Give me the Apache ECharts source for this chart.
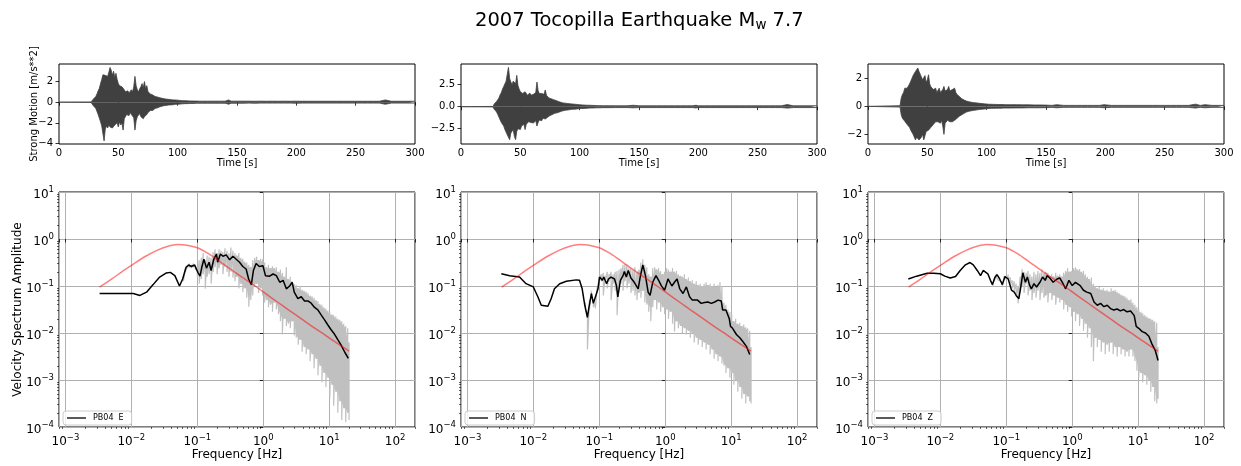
<!DOCTYPE html>
<html>
<head>
<meta charset="utf-8">
<script src="https://cdn.jsdelivr.net/npm/echarts@6.0.0/dist/echarts.min.js"></script>
<style>
  html, body { margin: 0; padding: 0; background: #fff; }
  #chart { width: 1241px; height: 466px; }
</style>
</head>
<body>
<div id="chart"></div>
<script>
// ---------- data ----------
const stationLabels = ['PB04  E', 'PB04  N', 'PB04  Z'];

// acceleration envelopes: [time s, upper m/s**2, lower m/s**2]
const waveE = [[0,0,0],[27,0.02,-0.02],[28,0.15,-0.15],[29,0.3,-0.35],[30,0.45,-0.5],[31,0.55,-0.6],[32,0.8,-0.9],[33,1.1,-1.2],[34,1.35,-1.55],[35,1.8,-1.9],[36,2.2,-2.3],[37,2.65,-2.4],[38,2.7,-3.75],[39,2.6,-2.6],[40,2.7,-2.3],[41,2.5,-2.5],[42,2.9,-2.2],[43,3.36,-2.4],[44,3.1,-2.3],[45,2.6,-2.5],[46,3.0,-2.4],[47,2.4,-2.2],[48,2.8,-2.3],[49,2.2,-2.0],[50,1.8,-2.4],[51,1.6,-1.9],[52,1.7,-2.2],[53,1.5,-2.0],[54,1.6,-2.7],[55,1.2,-1.6],[56,1.0,-1.4],[57,0.9,-1.2],[58,1.1,-1.1],[59,0.9,-1.3],[60,1.0,-1.0],[61,1.2,-1.2],[62,1.0,-1.1],[63,1.5,-1.5],[64,2.5,-2.7],[65,1.6,-1.8],[66,1.2,-1.4],[67,1.0,-1.3],[68,1.3,-1.1],[69,1.5,-1.4],[70,1.8,-1.5],[71,1.4,-1.6],[72,2.0,-1.4],[73,1.3,-1.5],[74,1.6,-1.2],[75,1.0,-1.0],[76,0.9,-0.9],[77,0.8,-0.8],[78,0.9,-0.75],[79,0.7,-0.8],[80,0.6,-0.7],[81,0.55,-0.6],[82,0.6,-0.55],[83,0.5,-0.55],[84,0.45,-0.5],[85,0.42,-0.45],[86,0.4,-0.4],[88,0.35,-0.35],[90,0.3,-0.32],[92,0.28,-0.28],[94,0.25,-0.26],[96,0.22,-0.25],[98,0.22,-0.2],[100,0.2,-0.2],[102,0.17,-0.18],[104,0.15,-0.16],[106,0.15,-0.14],[108,0.13,-0.14],[110,0.12,-0.13],[112,0.12,-0.12],[114,0.11,-0.12],[116,0.11,-0.1],[118,0.1,-0.1],[120,0.1,-0.1],[125,0.1,-0.1],[130,0.1,-0.1],[135,0.1,-0.1],[140,0.1,-0.1],[143,0.22,-0.2],[145,0.1,-0.1],[150,0.1,-0.1],[155,0.1,-0.1],[160,0.1,-0.09],[165,0.09,-0.1],[170,0.1,-0.09],[175,0.09,-0.09],[180,0.1,-0.09],[185,0.09,-0.09],[190,0.1,-0.09],[195,0.09,-0.09],[200,0.1,-0.1],[205,0.09,-0.09],[210,0.09,-0.09],[215,0.09,-0.09],[220,0.09,-0.09],[225,0.09,-0.09],[230,0.09,-0.09],[235,0.09,-0.09],[240,0.09,-0.09],[245,0.09,-0.09],[250,0.09,-0.09],[255,0.09,-0.09],[260,0.09,-0.09],[265,0.09,-0.09],[270,0.09,-0.09],[275,0.22,-0.2],[280,0.09,-0.09],[285,0.09,-0.09],[290,0.09,-0.09],[295,0.09,-0.09],[300,0.09,-0.09]];

const waveN = [[0,0,0],[27,0.03,-0.03],[28,0.3,-0.3],[29,0.5,-0.5],[30,0.6,-0.6],[31,0.8,-0.9],[32,1.0,-1.2],[33,1.36,-1.5],[34,1.6,-1.8],[35,2.0,-2.0],[36,2.3,-2.2],[37,2.4,-2.6],[38,2.9,-2.8],[39,3.0,-3.2],[40,4.47,-3.0],[41,3.2,-3.75],[42,2.8,-3.0],[43,2.5,-2.8],[44,2.9,-2.6],[45,3.0,-3.4],[46,2.6,-3.75],[47,3.56,-2.8],[48,2.4,-2.5],[49,2.0,-2.3],[50,1.7,-2.6],[51,1.75,-2.2],[52,1.5,-2.4],[53,1.6,-2.0],[54,1.7,-2.6],[55,1.5,-2.0],[56,1.3,-1.9],[57,1.4,-1.7],[58,1.55,-1.85],[59,1.3,-1.8],[60,1.5,-1.6],[61,1.4,-1.85],[62,1.55,-1.7],[63,1.6,-1.6],[64,2.8,-2.2],[65,1.8,-1.8],[66,1.5,-1.5],[67,1.3,-1.4],[68,1.5,-1.6],[69,1.3,-1.3],[70,1.4,-1.5],[71,1.9,-1.4],[72,1.3,-1.2],[73,1.1,-1.2],[74,1.0,-1.1],[75,1.0,-1.0],[76,0.9,-1.1],[77,1.0,-0.9],[78,0.8,-0.8],[79,0.75,-0.75],[80,0.7,-0.7],[81,0.6,-0.7],[82,0.6,-0.6],[83,0.55,-0.6],[84,0.5,-0.55],[85,0.45,-0.5],[86,0.42,-0.45],[88,0.4,-0.4],[90,0.35,-0.38],[92,0.32,-0.33],[94,0.3,-0.3],[96,0.28,-0.28],[98,0.25,-0.25],[100,0.22,-0.22],[102,0.2,-0.2],[104,0.18,-0.2],[106,0.17,-0.18],[108,0.16,-0.16],[110,0.15,-0.15],[112,0.14,-0.14],[114,0.13,-0.13],[116,0.12,-0.13],[118,0.12,-0.12],[120,0.11,-0.11],[125,0.11,-0.11],[130,0.1,-0.1],[135,0.1,-0.1],[140,0.1,-0.1],[145,0.16,-0.13],[150,0.1,-0.1],[155,0.1,-0.1],[160,0.1,-0.1],[165,0.1,-0.1],[170,0.1,-0.1],[175,0.1,-0.1],[180,0.1,-0.1],[185,0.1,-0.1],[190,0.1,-0.1],[195,0.1,-0.1],[198,0.16,-0.14],[200,0.1,-0.1],[205,0.1,-0.1],[210,0.1,-0.1],[215,0.1,-0.1],[220,0.1,-0.1],[225,0.1,-0.1],[230,0.1,-0.1],[235,0.1,-0.1],[240,0.1,-0.1],[245,0.1,-0.1],[250,0.1,-0.1],[255,0.1,-0.1],[260,0.1,-0.1],[265,0.1,-0.1],[270,0.1,-0.1],[275,0.24,-0.16],[280,0.1,-0.1],[285,0.1,-0.1],[290,0.1,-0.1],[295,0.1,-0.1],[300,0.1,-0.1]];

const waveZ = [[0,0,0],[27,0.05,-0.05],[28,0.6,-0.6],[29,0.85,-0.85],[30,1.0,-0.95],[31,1.3,-1.07],[32,1.2,-1.2],[33,1.3,-1.3],[34,1.43,-1.43],[35,1.6,-1.5],[36,1.8,-1.7],[37,2.0,-1.8],[38,2.2,-2.0],[39,2.3,-2.2],[40,2.5,-2.4],[41,2.6,-2.2],[42,2.74,-2.3],[43,2.5,-2.4],[44,2.4,-2.26],[45,2.1,-2.2],[46,1.9,-2.0],[47,1.8,-2.4],[48,2.2,-2.1],[49,1.7,-1.8],[50,1.9,-1.9],[51,2.26,-1.7],[52,1.6,-1.6],[53,1.4,-1.5],[54,1.3,-1.4],[55,1.2,-1.3],[56,1.1,-1.2],[57,1.3,-1.1],[58,1.0,-1.2],[59,1.1,-1.1],[60,1.3,-1.1],[61,1.0,-1.2],[62,1.1,-1.0],[63,1.2,-1.4],[64,1.43,-2.0],[65,1.1,-1.2],[66,1.0,-1.1],[67,1.2,-1.0],[68,1.43,-1.1],[69,1.1,-1.1],[70,1.0,-1.0],[71,1.2,-1.1],[72,1.07,-1.0],[73,1.3,-1.0],[74,1.0,-0.9],[75,0.85,-0.85],[76,0.8,-0.8],[77,0.7,-0.7],[78,0.6,-0.7],[79,0.55,-0.6],[80,0.5,-0.6],[81,0.45,-0.5],[82,0.4,-0.45],[83,0.38,-0.4],[84,0.35,-0.38],[85,0.33,-0.35],[86,0.3,-0.33],[88,0.28,-0.3],[90,0.26,-0.27],[92,0.24,-0.25],[94,0.22,-0.22],[96,0.2,-0.2],[98,0.18,-0.19],[100,0.17,-0.17],[102,0.15,-0.15],[104,0.15,-0.14],[106,0.14,-0.14],[108,0.14,-0.13],[110,0.13,-0.13],[112,0.13,-0.13],[114,0.13,-0.12],[116,0.12,-0.12],[118,0.12,-0.12],[120,0.12,-0.12],[125,0.12,-0.11],[130,0.11,-0.11],[135,0.11,-0.1],[140,0.1,-0.1],[145,0.1,-0.1],[150,0.09,-0.09],[155,0.07,-0.07],[159,0.12,-0.1],[165,0.07,-0.07],[170,0.07,-0.07],[175,0.07,-0.07],[180,0.07,-0.07],[185,0.07,-0.07],[190,0.07,-0.07],[195,0.07,-0.07],[199,0.12,-0.1],[205,0.07,-0.07],[210,0.07,-0.07],[215,0.07,-0.07],[220,0.07,-0.07],[225,0.07,-0.07],[230,0.07,-0.07],[235,0.07,-0.07],[240,0.07,-0.07],[245,0.07,-0.07],[250,0.07,-0.07],[255,0.07,-0.07],[260,0.07,-0.07],[265,0.07,-0.07],[270,0.07,-0.07],[276,0.16,-0.12],[280,0.07,-0.07],[284,0.12,-0.1],[290,0.07,-0.07],[295,0.07,-0.07],[300,0.07,-0.07]];

// raw velocity spectra envelopes: [frequency Hz, upper, lower]
const rawE = [[0.0617,0.158,0.126],[0.0661,0.24,0.2],[0.0708,0.282,0.24],[0.0759,0.302,0.251],[0.0813,0.282,0.24],[0.0871,0.302,0.251],[0.0933,0.282,0.224],[0.1,0.251,0.158],[0.107,0.355,0.112],[0.115,0.398,0.141],[0.123,0.501,0.178],[0.132,0.355,0.0871],[0.141,0.447,0.158],[0.151,0.417,0.178],[0.162,0.398,0.112],[0.174,0.525,0.2],[0.186,0.603,0.251],[0.2,0.501,0.178],[0.214,0.603,0.24],[0.229,0.562,0.282],[0.245,0.525,0.178],[0.263,0.631,0.251],[0.282,0.562,0.2],[0.302,0.501,0.158],[0.324,0.661,0.2],[0.347,0.562,0.151],[0.372,0.501,0.126],[0.398,0.447,0.158],[0.427,0.501,0.0891],[0.457,0.398,0.112],[0.49,0.38,0.0741],[0.525,0.331,0.0891],[0.562,0.316,0.0562],[0.603,0.282,0.0363],[0.646,0.251,0.0501],[0.692,0.355,0.0631],[0.741,0.398,0.1],[0.794,0.417,0.112],[0.851,0.355,0.0708],[0.912,0.38,0.0891],[0.977,0.372,0.0631],[1.05,0.316,0.0447],[1.12,0.251,0.0501],[1.2,0.282,0.0355],[1.29,0.24,0.0398],[1.38,0.263,0.0282],[1.48,0.24,0.0447],[1.58,0.251,0.0316],[1.7,0.2,0.0251],[1.82,0.224,0.0178],[1.95,0.191,0.00933],[2.09,0.158,0.02],[2.24,0.251,0.0141],[2.4,0.141,0.0158],[2.57,0.158,0.0126],[2.75,0.126,0.0178],[2.95,0.112,0.00891],[3.16,0.105,0.00794],[3.39,0.0891,0.00562],[3.63,0.1,0.00708],[3.89,0.0832,0.00398],[4.17,0.0794,0.00501],[4.47,0.0759,0.00355],[4.79,0.0708,0.00447],[5.13,0.0631,0.00251],[5.5,0.0603,0.00355],[5.89,0.0562,0.00178],[6.31,0.0501,0.00282],[6.76,0.0479,0.00126],[7.24,0.0417,0.002],[7.76,0.0398,0.000891],[8.32,0.0355,0.00141],[8.91,0.0331,0.000708],[9.55,0.0302,0.00112],[10.2,0.0282,0.000398],[11,0.0251,0.000794],[11.7,0.024,0.000282],[12.6,0.0224,0.000562],[13.5,0.02,0.0002],[14.5,0.0191,0.000355],[15.5,0.0178,0.000141],[16.6,0.0158,0.000251],[17.8,0.0141,0.000126],[19.1,0.0126,0.0002],[20,0.00631,0.000141]];

const rawN = [[0.0617,0.0447,0.0316],[0.0661,0.0251,0.00447],[0.0708,0.0501,0.0316],[0.0759,0.0794,0.0562],[0.0813,0.0501,0.0355],[0.0871,0.0447,0.0331],[0.0933,0.1,0.0708],[0.1,0.166,0.141],[0.107,0.178,0.126],[0.115,0.191,0.0631],[0.123,0.166,0.132],[0.132,0.2,0.0891],[0.141,0.182,0.126],[0.151,0.2,0.0501],[0.162,0.178,0.112],[0.174,0.2,0.0794],[0.186,0.209,0.024],[0.2,0.224,0.1],[0.214,0.24,0.112],[0.229,0.282,0.0794],[0.245,0.295,0.126],[0.263,0.282,0.0891],[0.282,0.251,0.112],[0.302,0.24,0.0708],[0.324,0.224,0.0794],[0.347,0.251,0.0631],[0.372,0.2,0.0501],[0.398,0.224,0.0708],[0.427,0.316,0.0562],[0.457,0.372,0.0794],[0.49,0.282,0.0447],[0.525,0.251,0.0398],[0.562,0.178,0.0282],[0.603,0.158,0.0178],[0.646,0.24,0.0355],[0.692,0.251,0.0501],[0.741,0.224,0.0316],[0.794,0.24,0.0447],[0.851,0.209,0.0282],[0.912,0.178,0.0355],[0.977,0.2,0.0251],[1.05,0.24,0.0316],[1.12,0.224,0.02],[1.2,0.2,0.0282],[1.29,0.24,0.0158],[1.38,0.2,0.0107],[1.48,0.209,0.0178],[1.58,0.178,0.0126],[1.7,0.166,0.0141],[1.82,0.158,0.01],[1.95,0.178,0.0126],[2.09,0.141,0.00933],[2.24,0.151,0.0112],[2.4,0.126,0.00794],[2.57,0.132,0.01],[2.75,0.112,0.00631],[2.95,0.126,0.00794],[3.16,0.105,0.00562],[3.39,0.112,0.00708],[3.63,0.1,0.00501],[3.89,0.112,0.00631],[4.17,0.12,0.00447],[4.47,0.105,0.00562],[4.79,0.112,0.00355],[5.13,0.1,0.00447],[5.5,0.112,0.00282],[5.89,0.0955,0.00355],[6.31,0.105,0.00251],[6.76,0.12,0.00316],[7.24,0.1,0.00224],[7.76,0.0447,0.002],[8.32,0.0398,0.00141],[8.91,0.0316,0.00178],[9.55,0.0282,0.00112],[10.2,0.0251,0.00141],[11,0.0178,0.000794],[11.7,0.02,0.001],[12.6,0.0158,0.000562],[13.5,0.0166,0.000708],[14.5,0.0141,0.000398],[15.5,0.0151,0.000501],[16.6,0.0132,0.000316],[17.8,0.0126,0.000447],[19.1,0.0112,0.000355],[20,0.00501,0.000316]];

const rawZ = [[0.0617,0.12,0.0955],[0.0661,0.151,0.126],[0.0708,0.182,0.151],[0.0759,0.158,0.132],[0.0813,0.141,0.12],[0.0871,0.12,0.1],[0.0933,0.166,0.138],[0.1,0.166,0.132],[0.107,0.174,0.141],[0.115,0.151,0.112],[0.123,0.132,0.0891],[0.132,0.126,0.0794],[0.141,0.112,0.0631],[0.151,0.1,0.0427],[0.162,0.158,0.0794],[0.174,0.229,0.1],[0.186,0.2,0.0708],[0.2,0.191,0.112],[0.214,0.209,0.0631],[0.229,0.178,0.0794],[0.245,0.158,0.0501],[0.263,0.2,0.0708],[0.282,0.178,0.0562],[0.302,0.209,0.0794],[0.324,0.191,0.0501],[0.347,0.224,0.0708],[0.372,0.191,0.0562],[0.398,0.2,0.0631],[0.427,0.191,0.0447],[0.457,0.166,0.0708],[0.49,0.178,0.0501],[0.525,0.158,0.0631],[0.562,0.191,0.0398],[0.603,0.166,0.0562],[0.646,0.178,0.0447],[0.692,0.158,0.0501],[0.741,0.191,0.0316],[0.794,0.209,0.0398],[0.851,0.24,0.0282],[0.912,0.2,0.0355],[0.977,0.209,0.0224],[1.05,0.24,0.0282],[1.12,0.251,0.0178],[1.2,0.224,0.0251],[1.29,0.229,0.0141],[1.38,0.2,0.02],[1.48,0.209,0.0112],[1.58,0.178,0.0158],[1.7,0.158,0.00794],[1.82,0.141,0.0126],[1.95,0.151,0.00501],[2.09,0.112,0.00251],[2.24,0.1,0.00794],[2.4,0.0891,0.00501],[2.57,0.0955,0.00708],[2.75,0.0832,0.00398],[2.95,0.0891,0.00631],[3.16,0.0794,0.00355],[3.39,0.0832,0.00562],[3.63,0.0759,0.00398],[3.89,0.0891,0.00631],[4.17,0.0794,0.00355],[4.47,0.0832,0.00501],[4.79,0.0759,0.00316],[5.13,0.0708,0.00501],[5.5,0.0661,0.00355],[5.89,0.0631,0.00447],[6.31,0.0603,0.00316],[6.76,0.0562,0.00398],[7.24,0.0501,0.00316],[7.76,0.0525,0.00447],[8.32,0.0447,0.00316],[8.91,0.0398,0.00251],[9.55,0.0355,0.00158],[10.2,0.0316,0.00112],[11,0.0282,0.00141],[11.7,0.0263,0.000891],[12.6,0.024,0.00126],[13.5,0.0224,0.000794],[14.5,0.0209,0.001],[15.5,0.02,0.000562],[16.6,0.0191,0.000708],[17.8,0.0178,0.000355],[19.1,0.0166,0.000316],[20,0.00501,0.000398]];

// smoothed velocity spectra: [frequency Hz, amplitude]
const smoothE = [[0.0033,0.069],[0.0063,0.069],[0.0107,0.069],[0.0135,0.063],[0.017,0.074],[0.0214,0.107],[0.0269,0.155],[0.034,0.19],[0.039,0.195],[0.0457,0.166],[0.0537,0.1],[0.06,0.141],[0.0676,0.25],[0.074,0.28],[0.081,0.26],[0.091,0.28],[0.102,0.195],[0.11,0.162],[0.117,0.25],[0.126,0.37],[0.138,0.24],[0.151,0.32],[0.162,0.214],[0.178,0.37],[0.195,0.48],[0.204,0.32],[0.224,0.48],[0.245,0.43],[0.275,0.46],[0.309,0.36],[0.347,0.43],[0.389,0.37],[0.437,0.32],[0.49,0.26],[0.55,0.23],[0.6,0.141],[0.66,0.107],[0.71,0.214],[0.78,0.3],[0.87,0.26],[0.99,0.27],[1.08,0.166],[1.25,0.162],[1.41,0.18],[1.58,0.166],[1.78,0.12],[2.0,0.132],[2.24,0.087],[2.51,0.1],[2.75,0.12],[2.95,0.074],[3.35,0.054],[3.77,0.059],[4.23,0.048],[4.75,0.048],[5.33,0.043],[6.0,0.035],[6.73,0.031],[7.59,0.024],[8.51,0.019],[9.55,0.0148],[10.7,0.0117],[12.0,0.0095],[13.5,0.0072],[15.1,0.0056],[17.4,0.0038],[19.5,0.0029]];

const smoothN = [[0.00327,0.182],[0.00437,0.166],[0.00617,0.155],[0.00776,0.112],[0.01,0.0955],[0.0117,0.0589],[0.0132,0.0389],[0.0166,0.0372],[0.0186,0.0537],[0.0209,0.0871],[0.0251,0.112],[0.0316,0.126],[0.0447,0.135],[0.0501,0.132],[0.055,0.0871],[0.0603,0.0389],[0.0661,0.0214],[0.0692,0.0331],[0.0759,0.0692],[0.0813,0.0427],[0.0871,0.0389],[0.0955,0.0871],[0.101,0.155],[0.111,0.132],[0.117,0.155],[0.129,0.112],[0.138,0.141],[0.151,0.155],[0.17,0.141],[0.182,0.102],[0.191,0.0589],[0.209,0.132],[0.229,0.166],[0.24,0.204],[0.257,0.155],[0.275,0.214],[0.302,0.148],[0.339,0.12],[0.389,0.0871],[0.417,0.155],[0.457,0.282],[0.501,0.166],[0.55,0.0741],[0.589,0.0631],[0.646,0.12],[0.724,0.166],[0.794,0.132],[0.871,0.102],[0.977,0.0813],[1.1,0.141],[1.16,0.141],[1.26,0.1],[1.38,0.12],[1.51,0.141],[1.66,0.0871],[1.86,0.0692],[2.09,0.0955],[2.34,0.0589],[2.57,0.0501],[2.75,0.0537],[3.09,0.0501],[3.51,0.0427],[3.94,0.0447],[4.43,0.0457],[5.01,0.0427],[5.62,0.0457],[6.31,0.0501],[7.08,0.0479],[7.41,0.0309],[8.32,0.0309],[9.33,0.0204],[9.77,0.0138],[10.5,0.0126],[12.0,0.0093],[13.5,0.0079],[15.1,0.0065],[17.0,0.0052],[19.1,0.0035]];

const smoothZ = [[0.00327,0.141],[0.00437,0.162],[0.0063,0.186],[0.0079,0.186],[0.01,0.182],[0.0117,0.162],[0.0141,0.148],[0.017,0.159],[0.02,0.214],[0.024,0.282],[0.0282,0.316],[0.0316,0.282],[0.0363,0.214],[0.0407,0.166],[0.0447,0.214],[0.0479,0.23],[0.0525,0.182],[0.0575,0.132],[0.0617,0.107],[0.0676,0.155],[0.0724,0.174],[0.0794,0.141],[0.0871,0.107],[0.0955,0.159],[0.107,0.141],[0.12,0.0813],[0.132,0.0741],[0.141,0.0631],[0.155,0.0537],[0.166,0.0955],[0.178,0.191],[0.195,0.12],[0.209,0.155],[0.224,0.107],[0.24,0.0871],[0.263,0.112],[0.288,0.0955],[0.324,0.12],[0.355,0.155],[0.389,0.132],[0.417,0.166],[0.457,0.148],[0.513,0.12],[0.589,0.141],[0.646,0.148],[0.708,0.12],[0.794,0.0871],[0.891,0.132],[1.0,0.102],[1.12,0.12],[1.2,0.132],[1.32,0.102],[1.48,0.0813],[1.66,0.0741],[1.91,0.0692],[2.14,0.0457],[2.4,0.0389],[2.69,0.0427],[3.02,0.0363],[3.39,0.0389],[3.8,0.0331],[4.27,0.0309],[4.79,0.0324],[5.37,0.0295],[6.03,0.0316],[6.76,0.0282],[7.67,0.0295],[8.71,0.0234],[9.33,0.0138],[10.2,0.0126],[11.5,0.0107],[12.9,0.01],[14.5,0.0085],[16.2,0.0058],[18.2,0.0042],[20,0.0026]];

// source model spectrum (same for all components)
const modelFreq = [0.0033,0.005,0.0075,0.011,0.017,0.025,0.035,0.05,0.07,0.1,0.15,0.22,0.33,0.5,0.75,1.1,1.7,2.5,3.7,5.5,8,12,20];
const modelAmp  = [0.095,0.14,0.21,0.30,0.44,0.58,0.69,0.76,0.74,0.65,0.48,0.33,0.22,0.148,0.10,0.068,0.044,0.030,0.0205,0.0138,0.0098,0.0066,0.0041];

// axis ranges and tick values
const timeRange = [0, 300];
const waveYRange = [[-4.05, 3.7], [-4.24, 4.85], [-2.69, 3.03]];
const waveYTicks = [[-4, -2, 0, 2], [-2.5, 0, 2.5], [-2, 0, 2]];
const freqRange = [0.0008, 200];
const ampRange = [1e-4, 10];
const denseBandFrom = 0.35;   // Hz: above this the raw spectrum forms a solid band

// ---------- layout ----------
const FONT = 'DejaVu Sans';
const lefts = [59, 461, 868];
const plotW = 356;
const waves = [waveE, waveN, waveZ];
const raws = [rawE, rawN, rawZ];
const smooths = [smoothE, smoothN, smoothZ];
const WAVE_COLOR = '#404040';
const RAW_COLOR = '#c0c0c0';

function envelopeTrace(rows) {
  const out = [];
  rows.forEach(r => { out.push([r[0], r[1]]); out.push([r[0], r[2]]); });
  return out;
}
function minorLogPositions(lo, hi) {
  const v = [];
  for (let e = Math.floor(Math.log10(lo)); e <= Math.ceil(Math.log10(hi)); e++) {
    for (let k = 2; k <= 9; k++) {
      const x = k * Math.pow(10, e);
      if (x >= lo && x <= hi) v.push(Math.log10(x));
    }
  }
  return v;
}
// solid core of the raw band: at each frequency the fill reaches only as far as
// the shallowest neighbouring extreme, so the deep single spikes stay as strokes
function bandRenderer(rows) {
  return function (params, api) {
    if (params.dataIndex !== 0) return null;
    const n = rows.length;
    const nb = (k, col, pick) => {
      const vals = [rows[Math.max(0, k - 1)][col], rows[k][col], rows[Math.min(n - 1, k + 1)][col]];
      return pick.apply(null, vals);
    };
    const top = rows.map((r, k) => api.coord([r[0], nb(k, 1, Math.min)]));
    const bottom = rows.map((r, k) => api.coord([r[0], nb(k, 2, Math.max)])).reverse();
    return { type: 'polygon', shape: { points: top.concat(bottom) },
      style: { fill: RAW_COLOR, stroke: null } };
  };
}
const MINUS = '\u2212';
function powLabel(v) {
  const e = Math.log10(v);
  const r = Math.round(e);
  if (Math.abs(e - r) > 1e-6) return '';
  return '{b|10}{s|' + (r < 0 ? MINUS + (-r) : r) + '}';
}
const powRich = {
  b: { fontSize: 12, fontFamily: FONT, color: '#000', lineHeight: 13, padding: [5, 0, 0, 0] },
  s: { fontSize: 8.5, fontFamily: FONT, color: '#000', lineHeight: 10, verticalAlign: 'top' }
};

const grids = [], xAxes = [], yAxes = [], series = [], legends = [];

// waveform panels: upper and lower envelopes, each filled to the zero line
for (let i = 0; i < 3; i++) {
  grids.push({ left: lefts[i], top: 64, width: plotW, height: 80, show: true,
    borderColor: '#000', borderWidth: 1, backgroundColor: 'transparent' });
  xAxes.push({ type: 'value', gridIndex: i, min: timeRange[0], max: timeRange[1], interval: 50,
    axisLine: { show: false }, splitLine: { show: false },
    axisTick: { length: 3.5, lineStyle: { color: '#000', width: 0.8 } },
    axisLabel: { fontSize: 10, fontFamily: FONT, color: '#000', margin: 4 },
    name: 'Time [s]', nameLocation: 'middle', nameGap: 14, nameMoveOverlap: false,
    nameTextStyle: { fontSize: 10, fontFamily: FONT, color: '#000' } });
  const dec = i === 1 ? 1 : 0;
  yAxes.push({ type: 'value', gridIndex: i, min: waveYRange[i][0], max: waveYRange[i][1],
    axisLine: { show: false }, splitLine: { show: false },
    axisTick: { length: 3.5, customValues: waveYTicks[i], lineStyle: { color: '#000', width: 0.8 } },
    axisLabel: { fontSize: 10, fontFamily: FONT, color: '#000', margin: 6, customValues: waveYTicks[i],
      formatter: v => (v < 0 ? MINUS : '') + Math.abs(v).toFixed(dec) },
    name: i === 0 ? 'Strong Motion [m/s**2]' : '', nameLocation: 'middle', nameGap: 20, nameMoveOverlap: false,
    nameTextStyle: { fontSize: 10, fontFamily: FONT, color: '#000' } });
  [1, 2].forEach(col => {
    series.push({ type: 'line', xAxisIndex: i, yAxisIndex: i,
      data: waves[i].map(r => [r[0], r[col]]),
      showSymbol: false, silent: true,
      lineStyle: { color: WAVE_COLOR, width: 0.8 },
      areaStyle: { color: WAVE_COLOR, opacity: 1, origin: 0 } });
  });
}

// spectrum panels
const minorX = minorLogPositions(freqRange[0], freqRange[1]);
const minorY = minorLogPositions(ampRange[0], ampRange[1]);
for (let i = 0; i < 3; i++) {
  const g = 3 + i;
  grids.push({ left: lefts[i], top: 192, width: plotW, height: 238, show: true,
    borderColor: '#000', borderWidth: 1, backgroundColor: 'transparent' });
  xAxes.push({ type: 'log', logBase: 10, gridIndex: g, min: freqRange[0], max: freqRange[1],
    axisLine: { show: false },
    splitLine: { show: true, lineStyle: { color: '#b0b0b0', width: 1 } },
    axisTick: { length: 3.5, lineStyle: { color: '#000', width: 0.8 } },
    axisLabel: { margin: 6, formatter: powLabel, rich: powRich },
    name: 'Frequency [Hz]', nameLocation: 'middle', nameGap: 22, nameMoveOverlap: false,
    nameTextStyle: { fontSize: 12, fontFamily: FONT, color: '#000' } });
  yAxes.push({ type: 'log', logBase: 10, gridIndex: g, min: ampRange[0], max: ampRange[1],
    axisLine: { show: false },
    splitLine: { show: true, lineStyle: { color: '#b0b0b0', width: 1 } },
    axisTick: { length: 3.5, lineStyle: { color: '#000', width: 0.8 } },
    axisLabel: { margin: 5, formatter: powLabel, rich: powRich },
    name: i === 0 ? 'Velocity Spectrum Amplitude' : '', nameLocation: 'middle', nameGap: 35, nameMoveOverlap: false,
    nameTextStyle: { fontSize: 12, fontFamily: FONT, color: '#000' } });

  const dense = raws[i].filter(r => r[0] >= denseBandFrom);
  series.push({ type: 'custom', name: 'raw band ' + i, xAxisIndex: 3 + i, yAxisIndex: 3 + i,
    data: dense, renderItem: bandRenderer(dense), silent: true, z: 1, clip: true });
  series.push({ type: 'line', name: 'raw ' + i, xAxisIndex: 3 + i, yAxisIndex: 3 + i,
    data: envelopeTrace(raws[i]), showSymbol: false, silent: true, z: 2,
    lineStyle: { color: RAW_COLOR, width: 1.2 } });
  series.push({ type: 'line', name: stationLabels[i], xAxisIndex: 3 + i, yAxisIndex: 3 + i,
    data: smooths[i], showSymbol: false, silent: true, z: 3, color: '#000',
    lineStyle: { color: '#000', width: 1.5 } });
  series.push({ type: 'line', name: 'model ' + i, xAxisIndex: 3 + i, yAxisIndex: 3 + i,
    data: modelFreq.map((f, k) => [f, modelAmp[k]]), showSymbol: false, silent: true, z: 4,
    smooth: 0.3, lineStyle: { color: 'rgba(255,0,0,0.5)', width: 1.5 } });

  legends.push({ data: [stationLabels[i]], left: lefts[i] + 4, top: 411, padding: [3, 8, 3, 4],
    icon: 'rect', itemWidth: 19, itemHeight: 1.3, itemGap: 4,
    borderColor: '#cccccc', borderWidth: 1, borderRadius: 3, backgroundColor: 'rgba(255,255,255,0.8)',
    textStyle: { fontSize: 8, fontFamily: FONT, color: '#000', padding: [0, 0, 0, 2] }, selectedMode: false });
}

// minor ticks on the log axes
for (let i = 0; i < 3; i++) {
  const g = 3 + i;
  xAxes.push({ type: 'value', gridIndex: g, position: 'bottom',
    min: Math.log10(freqRange[0]), max: Math.log10(freqRange[1]),
    axisLine: { show: false }, splitLine: { show: false }, axisLabel: { show: false },
    axisTick: { show: true, length: 2, customValues: minorX, lineStyle: { color: '#000', width: 0.6 } } });
  yAxes.push({ type: 'value', gridIndex: g, position: 'left',
    min: Math.log10(ampRange[0]), max: Math.log10(ampRange[1]),
    axisLine: { show: false }, splitLine: { show: false }, axisLabel: { show: false },
    axisTick: { show: true, length: 2, customValues: minorY, lineStyle: { color: '#000', width: 0.6 } } });
}

const chart = echarts.init(document.getElementById('chart'), null, { renderer: 'canvas' });
chart.setOption({
  animation: false,
  backgroundColor: '#fff',
  title: {
    text: '{t|2007 Tocopilla Earthquake M}{w|w}{t| 7.7}',
    left: 470, top: 5,
    textStyle: { rich: {
      t: { fontSize: 19.5, fontWeight: 'normal', fontFamily: FONT, color: '#000', lineHeight: 22 },
      w: { fontSize: 13.5, fontWeight: 'normal', fontFamily: FONT, color: '#000', lineHeight: 14, verticalAlign: 'bottom' }
    } }
  },
  grid: grids,
  xAxis: xAxes,
  yAxis: yAxes,
  legend: legends,
  series: series
});
</script>
</body>
</html>
